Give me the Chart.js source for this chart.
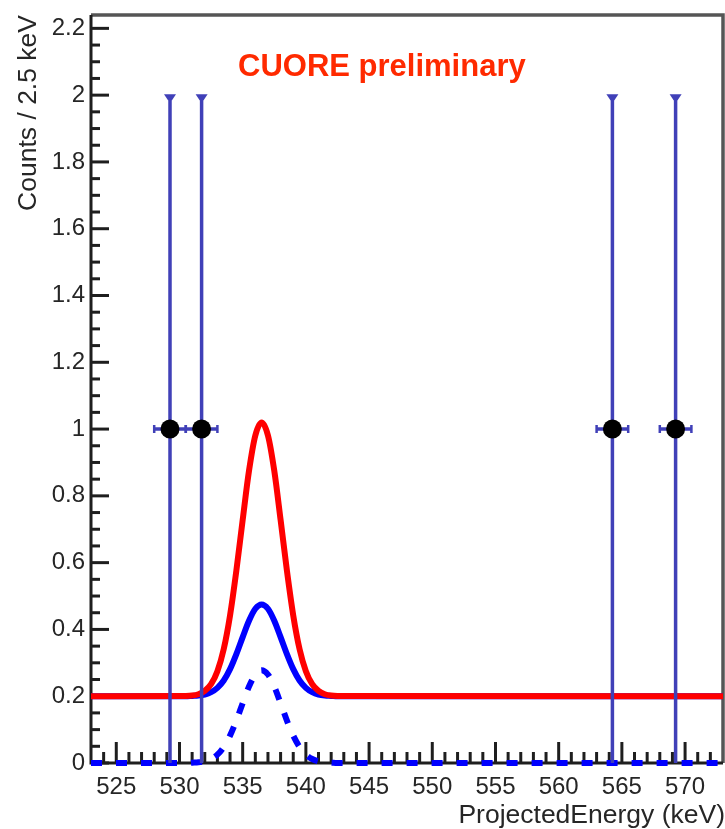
<!DOCTYPE html>
<html>
<head>
<meta charset="utf-8">
<title>CUORE preliminary</title>
<script src="https://cdn.jsdelivr.net/npm/chart.js@4.4.1/dist/chart.umd.min.js"></script>
<style>
    html, body { margin: 0; padding: 0; background: #fff; }
    #plot { display: block; }
</style>
</head>
<body>
<canvas id="plot" width="725" height="829"></canvas>
<script>
// Non-empty 2.5 keV bins
const binCenters = [529.25, 531.75, 564.25, 569.25];
const binCounts = [1, 1, 1, 1];
const countErrLow = [1, 1, 1, 1];
const countErrHigh = [1, 1, 1, 1];
const binHalfWidth = 1.25;

// Curves sampled along the energy axis (keV)
const curveEnergy = [523, 530.5, 531, 531.5, 532, 532.5, 533, 533.5, 534, 534.5, 535, 535.5, 536, 536.5,
    537, 537.5, 538, 538.5, 539, 539.5, 540, 540.5, 541, 541.5, 542, 542.5, 573];
const limitCurve = [0.200, 0.201, 0.202, 0.206, 0.216, 0.236, 0.275, 0.341, 0.442, 0.576, 0.728, 0.875, 0.981, 1.020,
    0.981, 0.875, 0.728, 0.576, 0.442, 0.341, 0.275, 0.236, 0.216, 0.206, 0.202, 0.201, 0.200];
const fitCurve = [0.200, 0.200, 0.201, 0.202, 0.205, 0.212, 0.225, 0.247, 0.281, 0.326, 0.377, 0.426, 0.462, 0.475,
    0.462, 0.426, 0.377, 0.326, 0.281, 0.247, 0.225, 0.212, 0.205, 0.202, 0.201, 0.200, 0.200];
const signalCurve = [0, 0, 0.001, 0.002, 0.005, 0.012, 0.025, 0.048, 0.082, 0.127, 0.179, 0.229, 0.265, 0.278,
    0.265, 0.229, 0.179, 0.127, 0.082, 0.048, 0.025, 0.012, 0.005, 0.002, 0.001, 0, 0];

const xTickValues = [525, 530, 535, 540, 545, 550, 555, 560, 565, 570];
const yTickValues = [0, 0.2, 0.4, 0.6, 0.8, 1, 1.2, 1.4, 1.6, 1.8, 2, 2.2];

const FONT = "'Liberation Sans', Arial, Helvetica, sans-serif";
const ERR_COLOR = '#4040b8';

function toPoints(xs, ys) {
    return xs.map((x, i) => ({ x: x, y: ys[i] }));
}

// Frame and inward tick marks, drawn under the datasets
const frameAndTicks = {
    id: 'frameAndTicks',
    beforeDatasetsDraw(chart) {
        const { ctx, chartArea: a, scales: { x, y } } = chart;
        ctx.save();
        ctx.lineCap = 'butt';

        // top and right frame
        ctx.strokeStyle = '#555';
        ctx.lineWidth = 3.5;
        ctx.beginPath();
        ctx.moveTo(a.left, a.top);
        ctx.lineTo(a.right, a.top);
        ctx.lineTo(a.right, a.bottom);
        ctx.stroke();

        ctx.strokeStyle = '#1e1e1e';
        ctx.lineWidth = 3;
        // y axis: major every 0.2, minor every 0.05
        for (let i = 0; i <= 44; i++) {
            const py = y.getPixelForValue(i * 0.05);
            const len = i % 4 === 0 ? 18 : 9;
            ctx.beginPath();
            ctx.moveTo(a.left, py);
            ctx.lineTo(a.left + len, py);
            ctx.stroke();
        }
        // x axis: major every 5 keV, minor every 1 keV
        for (let e = 524; e <= 572; e++) {
            const px = x.getPixelForValue(e);
            const len = e % 5 === 0 ? 21 : 11;
            ctx.beginPath();
            ctx.moveTo(px, a.bottom);
            ctx.lineTo(px, a.bottom - len);
            ctx.stroke();
        }

        ctx.lineWidth = 3;
        ctx.beginPath();
        ctx.moveTo(a.left, a.top);
        ctx.lineTo(a.left, a.bottom);
        ctx.lineTo(a.right, a.bottom);
        ctx.stroke();
        ctx.restore();
    }
};

// Error bars go right before the data markers
const errorBars = {
    id: 'errorBars',
    beforeDatasetDraw(chart, args) {
        if (args.index !== 0) return;
        const { ctx, scales: { x, y } } = chart;
        ctx.save();
        ctx.strokeStyle = ERR_COLOR;
        ctx.fillStyle = ERR_COLOR;
        ctx.lineWidth = 3.5;
        binCenters.forEach((c, i) => {
            const px = x.getPixelForValue(c);
            const py = y.getPixelForValue(binCounts[i]);
            const yLo = y.getPixelForValue(binCounts[i] - countErrLow[i]);
            const yHi = y.getPixelForValue(binCounts[i] + countErrHigh[i]);
            const xL = x.getPixelForValue(c - binHalfWidth);
            const xR = x.getPixelForValue(c + binHalfWidth);

            ctx.beginPath();
            ctx.moveTo(px, yLo);
            ctx.lineTo(px, yHi);
            ctx.moveTo(xL, py);
            ctx.lineTo(xR, py);
            ctx.stroke();

            // cap on top of the vertical bar
            ctx.beginPath();
            ctx.moveTo(px - 6, yHi - 1);
            ctx.lineTo(px + 6, yHi - 1);
            ctx.lineTo(px + 2, yHi + 5);
            ctx.lineTo(px - 2, yHi + 5);
            ctx.closePath();
            ctx.fill();

            // end caps of the horizontal bar
            ctx.lineWidth = 2.5;
            ctx.beginPath();
            ctx.moveTo(xL, py - 4);
            ctx.lineTo(xL, py + 4);
            ctx.moveTo(xR, py - 4);
            ctx.lineTo(xR, py + 4);
            ctx.stroke();
            ctx.lineWidth = 3.5;
        });
        ctx.restore();
    }
};

// Axis titles and the label inside the frame
const plotText = {
    id: 'plotText',
    afterDraw(chart) {
        const { ctx, chartArea: a } = chart;
        ctx.save();
        ctx.fillStyle = '#262626';
        ctx.font = '26.5px ' + FONT;

        ctx.textAlign = 'right';
        ctx.textBaseline = 'alphabetic';
        ctx.fillText('ProjectedEnergy (keV)', 725, 823);

        ctx.translate(36, a.top);
        ctx.rotate(-Math.PI / 2);
        ctx.textAlign = 'right';
        ctx.fillText('Counts / 2.5 keV', 0, 0);
        ctx.setTransform(1, 0, 0, 1, 0, 0);

        ctx.fillStyle = '#ff2a00';
        ctx.font = 'bold 31px ' + FONT;
        ctx.textAlign = 'left';
        ctx.fillText('CUORE preliminary', 238, 76);
        ctx.restore();
    }
};

new Chart(document.getElementById('plot'), {
    type: 'scatter',
    data: {
        datasets: [
            {
                label: 'Data',
                data: toPoints(binCenters, binCounts),
                showLine: false,
                pointRadius: 9.5,
                pointHoverRadius: 9.5,
                pointBackgroundColor: '#000',
                pointBorderColor: '#000',
                pointBorderWidth: 0
            },
            {
                label: 'Limit',
                data: toPoints(curveEnergy, limitCurve),
                showLine: true,
                borderColor: '#ff0000',
                borderWidth: 6,
                pointRadius: 0,
                cubicInterpolationMode: 'monotone',
                fill: false
            },
            {
                label: 'Best fit',
                data: toPoints(curveEnergy, fitCurve),
                showLine: true,
                borderColor: '#0000ff',
                borderWidth: 6,
                pointRadius: 0,
                cubicInterpolationMode: 'monotone',
                fill: false
            },
            {
                label: 'Signal',
                data: toPoints(curveEnergy, signalCurve),
                showLine: true,
                borderColor: '#0000ff',
                borderWidth: 6,
                borderDash: [11, 14],
                pointRadius: 0,
                cubicInterpolationMode: 'monotone',
                fill: false,
                clip: false
            }
        ]
    },
    options: {
        responsive: false,
        animation: false,
        devicePixelRatio: 1,
        layout: { autoPadding: false, padding: { top: 15, right: 2, left: 0, bottom: 0 } },
        plugins: {
            legend: { display: false },
            tooltip: { enabled: false }
        },
        scales: {
            x: {
                type: 'linear',
                min: 523,
                max: 573,
                grid: { display: false, drawTicks: false },
                border: { display: false },
                afterBuildTicks: scale => { scale.ticks = xTickValues.map(v => ({ value: v })); },
                afterFit: scale => {
                    scale.height = 66;
                    scale.paddingLeft = 0;
                    scale.paddingRight = 0;
                },
                ticks: {
                    padding: 10,
                    color: '#262626',
                    font: { family: FONT, size: 24 },
                    maxRotation: 0,
                    autoSkip: false,
                    callback: v => String(v)
                }
            },
            y: {
                type: 'linear',
                min: 0,
                max: 2.24,
                grid: { display: false, drawTicks: false },
                border: { display: false },
                afterBuildTicks: scale => { scale.ticks = yTickValues.map(v => ({ value: v })); },
                afterFit: scale => {
                    scale.width = 91;
                    scale.paddingTop = 0;
                    scale.paddingBottom = 0;
                },
                ticks: {
                    padding: 6,
                    color: '#262626',
                    font: { family: FONT, size: 24 },
                    autoSkip: false,
                    callback: v => String(Number(v.toFixed(1)))
                }
            }
        }
    },
    plugins: [frameAndTicks, errorBars, plotText]
});
</script>
</body>
</html>
